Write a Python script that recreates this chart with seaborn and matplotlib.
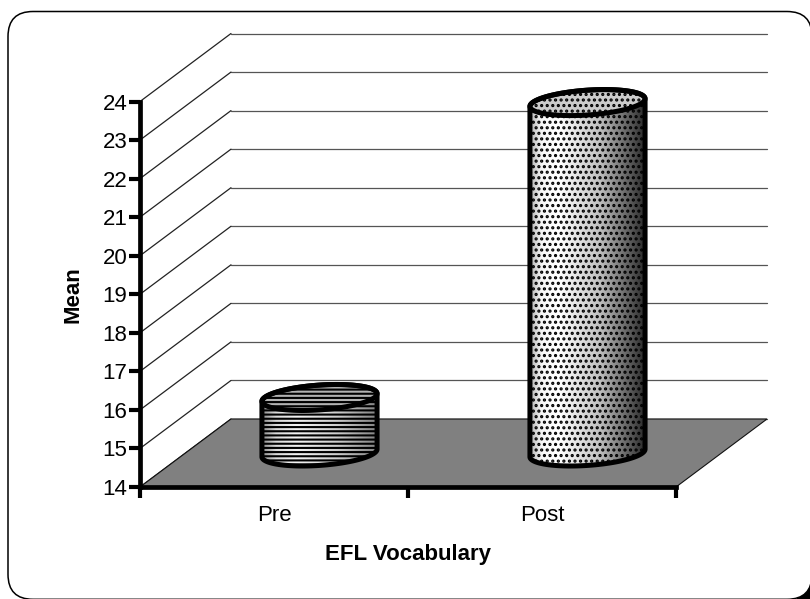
import numpy as np
import pandas as pd
import matplotlib
matplotlib.use("Agg")
import matplotlib.pyplot as plt
import seaborn as sns
from matplotlib.patches import FancyBboxPatch, PathPatch, Polygon, Rectangle
from matplotlib.path import Path
from matplotlib.transforms import Affine2D, IdentityTransform

categories = ["Pre", "Post"]
means = [15.44, 23.09]
y_ticks = list(range(14, 25))
x_title = "EFL Vocabulary"
y_title = "Mean"

W, H = 810, 599
sns.set_style("white")
plt.rcParams["font.family"] = ["Liberation Sans", "DejaVu Sans"]
plt.rcParams["hatch.linewidth"] = 1.5
plt.rcParams["text.color"] = "black"
plt.rcParams["axes.labelcolor"] = "black"
plt.rcParams["xtick.labelcolor"] = "black"
plt.rcParams["ytick.labelcolor"] = "black"

fig = plt.figure(figsize=(W / 100, H / 100), dpi=100, facecolor="white")
L, R, B, T = 140, 676, H - 487, H - 101.5
ax = fig.add_axes([L / W, B / H, (R - L) / W, (T - B) / H])
ax.patch.set_alpha(0)

px = IdentityTransform()
RAD = 25
fx0, fx1, fy0, fy1 = 8, 812, H - 599.3, H - 11.5
# the dark corner left outside the rounded frame at the lower right
fig.add_artist(Rectangle((797, 0), 13, 15, transform=px, fc="black", ec="none", zorder=-11))
frame = FancyBboxPatch((fx0 + RAD, fy0 + RAD), fx1 - fx0 - 2 * RAD, fy1 - fy0 - 2 * RAD,
                       boxstyle=f"round,pad={RAD},rounding_size={RAD}",
                       transform=px, fc="white", ec="black", lw=1.1,
                       zorder=-10, clip_on=False)
fig.add_artist(frame)

df = pd.DataFrame({"phase": categories, "mean": means})
sns.barplot(data=df, x="phase", y="mean", order=categories, color="white",
            width=0.425, saturation=1, ax=ax, zorder=3)
ax.set_xlim(-0.5, 1.5)
ax.set_ylim(y_ticks[0], y_ticks[-1])

DEPTH_X, DEPTH_Y = 91, 68
back = ax.transData + Affine2D().translate(DEPTH_X, DEPTH_Y)

for v in y_ticks:
    ax.plot([-0.5, 1.5], [v, v], transform=back, color="#555555", lw=0.9,
            clip_on=False, zorder=1)
    p0 = ax.transData.transform((-0.5, v))
    p1 = back.transform((-0.5, v))
    ax.plot([p0[0], p1[0]], [p0[1], p1[1]], transform=px, color="#222222",
            lw=0.9, clip_on=False, zorder=1)
fl = [ax.transData.transform((-0.5, 14)), ax.transData.transform((1.5, 14)),
      back.transform((1.5, 14)), back.transform((-0.5, 14))]
ax.add_patch(Polygon(fl, closed=True, transform=px, fc="#808080", ec="#111111",
                     lw=0.8, clip_on=False, zorder=2))


def ellipse(cx, cy, t):
    ex, edx, edy = 55.0, 17.0, 13.0
    return np.column_stack([cx + ex * np.cos(t) + edx * np.sin(t),
                            cy + edy * np.sin(t)])


def add_ramp(clip, x0, x1, y0, y1, stops, z):
    xs = np.linspace(0, 1, 200)
    alpha = np.interp(xs, stops[0], stops[1])
    rgba = np.zeros((1, 200, 4))
    rgba[..., 3] = alpha
    im = ax.imshow(rgba, extent=(x0, x1, y0, y1), transform=px, aspect="auto",
                   zorder=z, interpolation="bilinear")
    im.set_clip_path(clip)
    im.set_clip_on(True)
    return im


styles = [
    dict(hatch="-" * 4, top=0.3, ramp=([0, .12, .3, .65, 1], [.45, .15, .05, .2, .5])),
    dict(hatch="." * 3, top=0.2, ramp=([0, .1, .25, .6, 1], [.3, .03, 0, .25, .85])),
]
t0 = np.arctan2(17.0, 55.0)
for i, (bar, v, st) in enumerate(zip(ax.patches, means, styles)):
    xc = bar.get_x() + bar.get_width() / 2
    cx, cy_bot = ax.transData.transform((xc, y_ticks[0])) + (DEPTH_X / 2, DEPTH_Y / 2)
    cy_top = ax.transData.transform((xc, v))[1] + DEPTH_Y / 2

    tb = np.linspace(t0 + np.pi, t0 + 2 * np.pi, 80)
    tt = np.linspace(t0, t0 + np.pi, 80)
    body_v = np.vstack([ellipse(cx, cy_bot, tb), ellipse(cx, cy_top, tt)])
    body = Path(np.vstack([body_v, body_v[:1]]), closed=True)
    body_clip = PathPatch(body, transform=px, fc="none", ec="none")
    ax.add_patch(body_clip)

    bar.set_transform(ax.transData + Affine2D().translate(DEPTH_X / 2, DEPTH_Y / 2))
    bar.set_y(y_ticks[0] - 1.5)
    bar.set_height(v - y_ticks[0] + 1.5)
    bar.set_facecolor("white")
    bar.set_edgecolor("black")
    bar.set_linewidth(0)
    bar.set_hatch(st["hatch"])
    bar.set_zorder(3)
    bar.set_clip_path(body_clip)

    x0, x1 = cx - 58, cx + 58
    add_ramp(body_clip, x0, x1, cy_bot - 20, cy_top + 20, st["ramp"], 4)

    top_v = ellipse(cx, cy_top, np.linspace(0, 2 * np.pi, 160))
    ax.add_patch(Polygon(top_v, closed=True, transform=px, fc="white", ec="black",
                         lw=0, hatch=st["hatch"], clip_on=False, zorder=5))
    ax.add_patch(Polygon(top_v, closed=True, transform=px, fc=(0, 0, 0, st["top"]),
                         ec="none", clip_on=False, zorder=5.5))
    ax.add_patch(Polygon(top_v, closed=True, transform=px, fc="none", ec="black",
                         lw=3.6, clip_on=False, zorder=6, joinstyle="round"))
    ax.add_patch(PathPatch(body, transform=px, fc="none", ec="black", lw=3.6,
                           clip_on=False, zorder=6, joinstyle="round"))

ax.set_xlim(-0.5, 1.5)
ax.set_ylim(y_ticks[0], y_ticks[-1])

for s in ["top", "right"]:
    ax.spines[s].set_visible(False)
for s in ["left", "bottom"]:
    ax.spines[s].set_linewidth(3.4)
    ax.spines[s].set_color("black")
    ax.spines[s].set_zorder(8)
ax.set_yticks(y_ticks)
ax.set_yticklabels([str(v) for v in y_ticks])
ax.set_xticks([-0.5, 0.5, 1.5])
ax.set_xticklabels(["", "", ""])
ax.set_xticks([0, 1], labels=categories, minor=True)
ax.tick_params(axis="both", which="major", length=8, width=3.0, color="black",
               left=True, bottom=True, labelsize=16, pad=1)
ax.tick_params(axis="x", which="minor", length=0, bottom=False, labelsize=16, pad=13)
ax.set_xlabel(x_title, fontsize=16, fontweight="bold", labelpad=13)
ax.set_ylabel(y_title, fontsize=16, fontweight="bold", labelpad=13.5)

fig.savefig("out.png", dpi=100)
